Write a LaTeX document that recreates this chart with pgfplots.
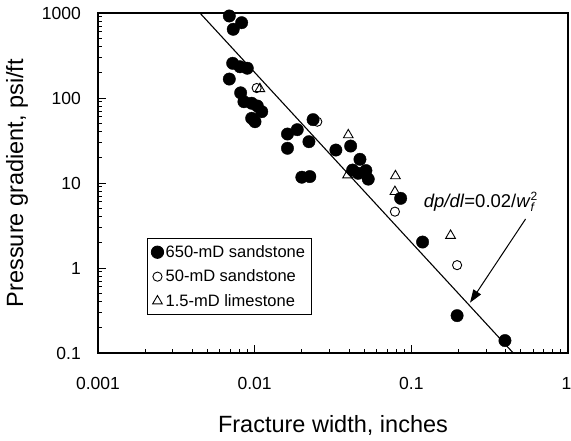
\documentclass[border=0pt]{standalone}
\usepackage{fontspec}
\setmainfont{Liberation Sans}
\usepackage{pgfplots}
\pgfplotsset{compat=1.18}
\usetikzlibrary{arrows.meta}

% Pressure gradient vs. fracture width, three rock types
\begin{document}
\begin{tikzpicture}
\useasboundingbox (-98pt,-88pt) rectangle (473pt,353pt);
\begin{axis}[
  at={(0pt,0pt)}, anchor=south west,
  scale only axis, width=470pt, height=340pt,
  xmode=log, ymode=log,
  xmin=0.001, xmax=1, ymin=0.1, ymax=1000,
  xtick={0.001,0.01,0.1,1}, xticklabels={0.001,0.01,0.1,\hspace*{-3pt}1},
  ytick={0.1,1,10,100,1000}, yticklabels={0.1,1,10,100,1000},
  tick pos=left, tick align=inside,
  major tick length=8pt, minor tick length=4pt,
  axis line style={line width=1.2pt},
  every tick/.style={black, line width=0.9pt},
  ticklabel style={font=\fontsize{17.5}{20}\selectfont},
  xticklabel style={anchor=center, yshift=-30pt},
  yticklabel style={anchor=east, inner sep=0pt, xshift=-17pt},
  every axis x label/.style={at={(axis description cs:0.5,0)}, anchor=center, yshift=-72pt, font=\fontsize{23.5}{28}\selectfont},
  every axis y label/.style={at={(axis description cs:-0.172,0.5)}, anchor=center, rotate=90, font=\fontsize{23.5}{28}\selectfont},
  xlabel={Fracture width, inches},
  ylabel={Pressure gradient, psi/ft},
  reverse legend,
  legend cell align=left,
  legend style={at={(axis description cs:0.104,0.338)}, anchor=north west,
    draw=black, line width=0.8pt, font=\fontsize{16.5}{19}\selectfont,
    row sep=7pt, inner xsep=4pt, inner ysep=5pt},
  legend image code/.code={\draw[mark repeat=2,mark phase=2,#1] plot coordinates {(0pt,0pt) (5.5pt,0pt) (11pt,0pt)};},
]
% 1.5-mD limestone
\addplot[only marks, mark=triangle, mark size=5.6pt, black, line width=0.9pt] coordinates {
  (0.0108,128) (0.0396,36.7) (0.0392,12.4) (0.0792,12.1) (0.0786,7.9) (0.178,2.41)
};
\addlegendentry{1.5-mD limestone}
% 50-mD sandstone
\addplot[only marks, mark=o, mark size=4.6pt, black, line width=0.9pt] coordinates {
  (0.0103,131) (0.0251,52.6) (0.0786,4.6) (0.196,1.08)
};
\addlegendentry{50-mD sandstone}
% 650-mD sandstone
\addplot[only marks, mark=*, mark size=6.2pt, black, fill=black] coordinates {
  (0.00689,922) (0.00826,769) (0.00730,643)
  (0.00724,256) (0.00806,233) (0.00897,224) (0.00689,167)
  (0.00814,115) (0.00854,90.4) (0.00957,86.7) (0.0104,80.5)
  (0.0111,69.0) (0.00957,57.7) (0.01005,52.6)
  (0.0236,55.6) (0.0187,42.4) (0.0162,37.7) (0.0162,25.6)
  (0.0222,30.6) (0.0330,24.4) (0.0410,27.2) (0.0470,19.0)
  (0.0422,14.2) (0.0458,13.0) (0.0513,14.0) (0.0531,11.1)
  (0.0200,11.7) (0.0225,11.9) (0.0855,6.6) (0.118,2.02)
  (0.196,0.275) (0.396,0.14)
};
\addlegendentry{650-mD sandstone}
% dp/dl = 0.02/w^2, endpoints on the frame
\addplot[black, line width=1.1pt, forget plot] coordinates {(0.0044721,1000) (0.44721,0.1)};
\node[font=\fontsize{18.5}{22}\selectfont, anchor=center] at (axis cs:0.278,5.97)
  {\textit{dp/dl}=0.02/\textit{w}$_{\mbox{\fontsize{12}{14}\selectfont\itshape f}}^{\mbox{\fontsize{12}{14}\selectfont 2}}$};
\draw[-{Triangle[length=13pt,width=9pt]}, line width=1pt] (axis cs:0.536,3.77) -- (axis cs:0.237,0.391);
\end{axis}
\end{tikzpicture}
\end{document}
